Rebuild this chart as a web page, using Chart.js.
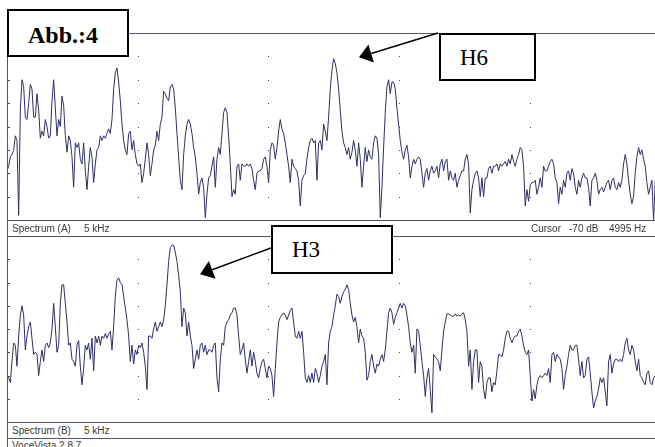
<!DOCTYPE html>
<html><head><meta charset="utf-8">
<script src="https://cdn.jsdelivr.net/npm/chart.js@4.4.1/dist/chart.umd.min.js"></script>
<style>
html,body{margin:0;padding:0;background:#fff;width:655px;height:447px;overflow:hidden;}
#page{position:relative;width:655px;height:447px;overflow:hidden;}
.hl{position:absolute;height:1px;background:#55557a;}
.vl{position:absolute;width:1px;background:#55557a;}
.cv{position:absolute;}
.lbl{position:absolute;font-family:'Liberation Sans',Arial,sans-serif;font-size:10px;line-height:10px;color:#3a3a3a;white-space:pre;}
.box{position:absolute;box-sizing:border-box;border:2px solid #000;background:#fff;}
.bt{position:absolute;font-family:'Liberation Serif','Times New Roman',serif;color:#000;line-height:1;white-space:pre;}
</style></head>
<body><div id="page">
<canvas id="cA" class="cv" width="648" height="187" style="left:7px;top:33px"></canvas>
<canvas id="cB" class="cv" width="648" height="186" style="left:7px;top:236px"></canvas>
<div class="hl" style="left:7px;top:33px;width:648px"></div>
<div class="hl" style="left:7px;top:220px;width:648px"></div>
<div class="hl" style="left:7px;top:236px;width:648px"></div>
<div class="hl" style="left:7px;top:422px;width:648px"></div>
<div class="hl" style="left:7px;top:438px;width:648px"></div>
<div class="vl" style="left:7px;top:33px;height:414px"></div>
<div class="lbl" style="left:12px;top:224px">Spectrum (A)</div>
<div class="lbl" style="left:84px;top:224px">5 kHz</div>
<div class="lbl" style="left:531px;top:224px">Cursor</div>
<div class="lbl" style="left:569px;top:224px">-70 dB</div>
<div class="lbl" style="left:609px;top:224px">4995 Hz</div>
<div class="lbl" style="left:12px;top:426px">Spectrum (B)</div>
<div class="lbl" style="left:84px;top:426px">5 kHz</div>
<div class="lbl" style="left:12px;top:441px">VoceVista 2.8.7</div>
<div class="box" style="left:7px;top:9px;width:122px;height:48px"></div>
<div class="bt" style="left:28px;top:23px;font-size:24px;font-weight:bold">Abb.:4</div>
<div class="box" style="left:439px;top:33px;width:97px;height:48px"></div>
<div class="bt" style="left:460px;top:46px;font-size:23px">H6</div>
<div class="box" style="left:271px;top:225px;width:122px;height:49px"></div>
<div class="bt" style="left:292px;top:238px;font-size:23px">H3</div>
<svg width="655" height="447" style="position:absolute;left:0;top:0">
<line x1="438" y1="33" x2="371.2" y2="53.5" stroke="#000" stroke-width="1.5"/>
<polygon points="359,57.3 368.4,44.4 373.9,62.6" fill="#000"/>
<line x1="271" y1="248" x2="212.2" y2="269.8" stroke="#000" stroke-width="1.5"/>
<polygon points="200,274.3 208.9,260.9 215.5,278.7" fill="#000"/>
</svg>
</div>
<script>
// Frequency bin width of the spectrum (Hz) and displayed range
const binHz = 12.75;
const maxHz = 4958;
const minDb = -80, maxDb = 0;
// dotted grid positions
const gridFreqs = [1000, 2000, 3000, 4000];
const gridLevels = [-10, -20, -30, -40, -50, -60, -70];

// Spectrum (A) levels in dB, one per bin
const levelsA = [
-59,-57,-53,-52,-50,-44,-46,-78,-33,-20,
-23,-36,-37,-30,-22,-24,-36,-36,-26,-33,
-45,-42,-44,-37,-40,-45,-44,-29,-20,-32,
-44,-37,-40,-27,-31,-44,-51,-44,-46,-53,
-66,-47,-49,-47,-54,-56,-47,-59,-67,-57,
-49,-53,-64,-56,-50,-49,-44,-46,-44,-45,
-43,-41,-43,-37,-24,-17,-15,-21,-29,-39,
-46,-50,-52,-43,-42,-50,-46,-52,-56,-57,
-56,-64,-60,-54,-47,-52,-61,-56,-50,-48,
-42,-46,-39,-36,-25,-26,-28,-29,-23,-22,
-24,-32,-43,-53,-63,-67,-52,-44,-39,-37,
-39,-43,-49,-53,-60,-69,-64,-62,-66,-79,
-69,-62,-61,-57,-53,-66,-54,-49,-52,-43,
-34,-32,-34,-44,-56,-70,-67,-69,-57,-56,
-63,-56,-57,-57,-56,-57,-56,-58,-63,-67,
-60,-59,-59,-58,-54,-53,-57,-64,-50,-47,
-48,-54,-49,-42,-37,-41,-43,-47,-52,-57,
-64,-54,-57,-58,-59,-63,-74,-63,-61,-60,
-54,-49,-46,-45,-47,-46,-63,-47,-46,-50,
-39,-42,-46,-36,-24,-16,-11,-13,-17,-24,
-33,-42,-47,-49,-52,-49,-54,-51,-46,-50,
-57,-47,-54,-66,-57,-49,-55,-50,-53,-54,
-47,-44,-45,-52,-79,-66,-49,-34,-23,-20,
-26,-21,-21,-24,-32,-39,-46,-51,-54,-50,
-48,-53,-62,-57,-54,-56,-54,-53,-54,-60,
-66,-60,-58,-63,-59,-57,-60,-59,-57,-62,
-56,-54,-59,-55,-54,-63,-59,-62,-63,-60,
-66,-63,-61,-59,-59,-54,-52,-56,-77,-67,
-63,-60,-59,-62,-70,-62,-70,-62,-62,-58,
-57,-60,-57,-57,-56,-59,-56,-57,-56,-55,
-57,-54,-56,-52,-55,-57,-54,-52,-49,-50,
-57,-74,-67,-72,-65,-64,-64,-63,-69,-66,
-62,-66,-57,-59,-59,-57,-55,-54,-56,-62,
-64,-73,-66,-69,-63,-66,-60,-59,-63,-58,
-60,-66,-69,-63,-66,-62,-60,-62,-62,-66,
-74,-63,-62,-60,-63,-69,-67,-66,-68,-66,
-64,-63,-67,-63,-62,-66,-67,-64,-66,-63,
-56,-52,-56,-63,-69,-73,-70,-60,-53,-49,
-52,-50,-54,-57,-64,-69,-66,-63,-80,-63
];

// Spectrum (B) levels in dB, one per bin
const levelsB = [
-60,-61,-63,-54,-46,-47,-56,-43,-34,-30,
-34,-49,-43,-39,-37,-44,-51,-50,-51,-60,
-54,-49,-54,-47,-46,-48,-46,-40,-29,-39,
-50,-47,-29,-21,-21,-29,-37,-47,-46,-53,
-54,-56,-47,-45,-56,-64,-57,-47,-49,-46,
-53,-44,-58,-43,-46,-43,-47,-43,-44,-42,
-44,-42,-41,-49,-39,-26,-19,-18,-20,-21,
-26,-31,-36,-43,-54,-47,-55,-49,-51,-47,
-48,-46,-50,-56,-66,-43,-43,-44,-40,-37,
-41,-39,-37,-39,-36,-30,-21,-11,-5,-4,
-4,-7,-11,-17,-24,-39,-31,-33,-43,-37,
-43,-47,-57,-53,-49,-53,-47,-46,-50,-47,
-51,-49,-49,-50,-47,-46,-61,-67,-53,-46,
-47,-39,-37,-36,-34,-33,-31,-31,-34,-43,
-51,-49,-46,-53,-59,-54,-49,-56,-50,-54,
-59,-61,-57,-54,-53,-57,-61,-56,-57,-60,
-69,-57,-46,-37,-35,-34,-33,-34,-36,-34,
-32,-31,-37,-43,-44,-41,-44,-41,-50,-61,
-63,-60,-63,-59,-63,-57,-59,-63,-60,-56,
-54,-51,-64,-46,-41,-39,-34,-30,-25,-26,
-29,-26,-24,-23,-21,-23,-29,-34,-37,-35,
-39,-46,-40,-43,-44,-50,-62,-60,-54,-51,
-56,-59,-55,-56,-53,-51,-54,-49,-41,-33,
-31,-33,-38,-35,-33,-31,-29,-31,-29,-30,
-34,-39,-46,-50,-47,-59,-40,-41,-47,-54,
-60,-69,-61,-57,-66,-76,-51,-52,-53,-54,
-58,-49,-41,-37,-33.5,-33.5,-34,-34.5,-34.5,-33.5,
-34.5,-34,-34.5,-33.5,-33,-36,-41,-56,-49,-66,
-54,-49,-49,-63,-54,-56,-66,-70,-63,-61,
-61,-67,-63,-64,-58,-51,-51,-52,-49,-44,
-41,-41,-44,-46,-44,-43,-43,-41,-40,-43,
-47,-50,-51,-49,-60,-71,-66,-70,-64,-61,
-60,-61,-60,-59,-60,-57,-63,-51,-50,-54,
-51,-52,-53,-57,-66,-60,-56,-51,-47,-49,
-49,-47,-47,-53,-60,-54,-61,-60,-53,-52,
-59,-67,-74,-71,-69,-66,-61,-63,-61,-67,
-73,-54,-51,-59,-55,-53,-53,-54,-53,-54,
-51,-46,-44,-49,-51,-47,-49,-54,-58,-53,
-60,-61,-63,-64,-59,-58,-63,-64,-61,-60
];

const lineColor = '#2e2e66';
const dotColor = '#44446a';

const dotGrid = {
  id: 'dotGrid',
  beforeDatasetsDraw(chart) {
    const ctx = chart.ctx, xs = chart.scales.x, ys = chart.scales.y, ca = chart.chartArea;
    ctx.save();
    ctx.fillStyle = dotColor;
    for (const L of gridLevels) {
      const py = Math.round(ys.getPixelForValue(L));
      ctx.fillRect(ca.left + 1, py, 2, 1);
      for (const f of gridFreqs) {
        const px = Math.round(xs.getPixelForValue(f));
        ctx.fillRect(px, py, 1, 1);
      }
    }
    ctx.restore();
  }
};

function makeChart(id, levels) {
  new Chart(document.getElementById(id), {
    type: 'line',
    data: {
      datasets: [{
        data: levels.map((v, i) => ({ x: i * binHz, y: v })),
        borderColor: lineColor,
        borderWidth: 1,
        pointRadius: 0,
        tension: 0,
        fill: false
      }]
    },
    options: {
      responsive: false,
      animation: false,
      devicePixelRatio: 1,
      layout: { padding: 0 },
      plugins: { legend: { display: false }, tooltip: { enabled: false } },
      scales: {
        x: { type: 'linear', display: false, min: 0, max: maxHz },
        y: { type: 'linear', display: false, min: minDb, max: maxDb }
      }
    },
    plugins: [dotGrid]
  });
}
makeChart('cA', levelsA);
makeChart('cB', levelsB);
</script>
</body></html>
